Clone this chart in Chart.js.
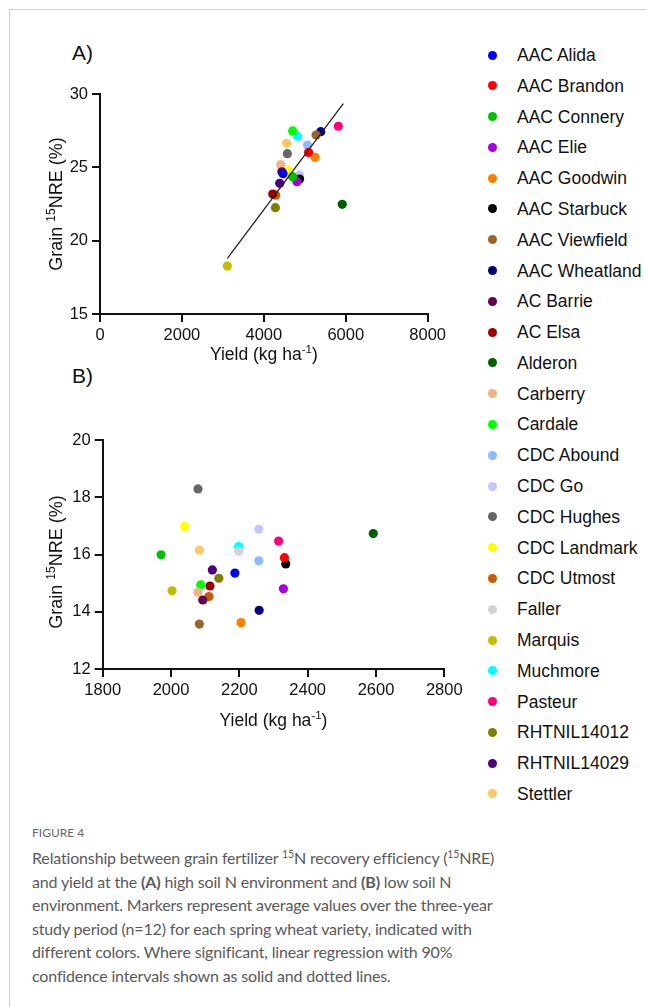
<!DOCTYPE html>
<html><head><meta charset="utf-8">
<script src="https://cdn.jsdelivr.net/npm/chart.js@4/dist/chart.umd.min.js"></script>
<style>
html,body{margin:0;padding:0;background:#fff;}
#page{position:relative;width:646px;height:1007px;overflow:hidden;background:#fff;font-family:"Liberation Sans",Arial,sans-serif;}
#frame{position:absolute;left:9px;top:9px;width:700px;height:1100px;border-left:1px solid #cfcfcf;border-top:1px solid #cfcfcf;}
.panel{position:absolute;font-size:21px;color:#111;line-height:24px;}
canvas{position:absolute;}
.mk{position:absolute;width:9px;height:9px;border-radius:50%;}
.lt{position:absolute;font-size:17.5px;color:#111;white-space:nowrap;line-height:20px;}
#fig{position:absolute;left:32px;top:825px;font-family:"Lato",sans-serif;font-size:12px;color:#666;}
#cap{position:absolute;left:32px;top:846px;font-family:"Lato",sans-serif;font-size:16px;letter-spacing:-0.16px;color:#595959;line-height:23.6px;white-space:nowrap;}
#cap sup{font-size:10.5px;vertical-align:6px;line-height:0;}
#cap b{font-weight:700;}
</style></head>
<body><div id="page">
<div id="frame"></div>
<div class="panel" style="left:72px;top:41px;">A)</div>
<div class="panel" style="left:72px;top:364px;">B)</div>
<canvas id="cA" width="450" height="360" style="left:0;top:20px;width:450px;height:360px;"></canvas>
<canvas id="cB" width="470" height="370" style="left:0;top:390px;width:470px;height:370px;"></canvas>
<div id="legend"></div>
<div id="fig">FIGURE 4</div>
<div id="cap">Relationship between grain fertilizer <sup>15</sup>N recovery efficiency (<sup>15</sup>NRE)<br>and yield at the <b>(A)</b> high soil N environment and <b>(B)</b> low soil N<br>environment. Markers represent average values over the three-year<br>study period (n=12) for each spring wheat variety, indicated with<br>different colors. Where significant, linear regression with 90%<br>confidence intervals shown as solid and dotted lines.</div>
</div>
<script>
const varieties = ["AAC Alida","AAC Brandon","AAC Connery","AAC Elie","AAC Goodwin","AAC Starbuck","AAC Viewfield","AAC Wheatland","AC Barrie","AC Elsa","Alderon","Carberry","Cardale","CDC Abound","CDC Go","CDC Hughes","CDC Landmark","CDC Utmost","Faller","Marquis","Muchmore","Pasteur","RHTNIL14012","RHTNIL14029","Stettler"];
const colors = ["#0000ff","#ff0000","#00c000","#a800e0","#ff7f00","#000000","#9c6428","#00007f","#620052","#990000","#005f00","#f0b482","#00ff00","#8cbcff","#c4c4ff","#666666","#ffff00","#c85a00","#d2d2d2","#c4bc00","#00ffff","#ff0080","#808000","#4c0080","#ffc864"];
// Panel A: high soil N
const yieldA = [4469,5091,4703,4808,5253,4873,5276,5390,4440,4218,5915,4412,4703,5067,4873,4574,4606,4290,4850,3110,4824,5818,4283,4388,4558];
const nreA   = [24.57,26.02,24.36,24.02,25.68,24.2,27.2,27.43,24.7,23.18,22.48,25.18,27.48,26.52,24.48,25.93,24.77,23.1,24.4,18.27,27.12,27.8,22.25,23.91,26.64];
const regXA = [3110,5940];
const regYA = [18.8,29.35];
// Panel B: low soil N
const yieldB = [2187,2332,1971,2329,2205,2336,2083,2258,2093,2114,2592,2079,2087,2257,2257,2079,2040,2111,2198,2003,2198,2315,2140,2121,2083];
const nreB   = [15.35,15.89,15.99,14.8,13.62,15.67,13.57,14.05,14.41,14.9,16.73,14.68,14.94,15.78,16.88,18.29,16.98,14.53,16.11,14.73,16.28,16.47,15.17,15.46,16.15];
const xTicksA = [0,2000,4000,6000,8000];
const yTicksA = [15,20,25,30];
const xTicksB = [1800,2000,2200,2400,2600,2800];
const yTicksB = [12,14,16,18,20];

const FF = "'Liberation Sans', Arial, sans-serif";
const INK = '#111';

// legend
const lg = document.getElementById('legend');
varieties.forEach((v,i)=>{
  const cy = 55 + i*30.79;
  const m = document.createElement('div'); m.className='mk';
  m.style.left='487.5px'; m.style.top=(cy-4.5)+'px'; m.style.background=colors[i];
  lg.appendChild(m);
  const t = document.createElement('div'); t.className='lt';
  t.style.left='517px'; t.style.top=(cy-10)+'px'; t.textContent=v;
  lg.appendChild(t);
});

// axis titles with superscripts
function drawParts(ctx, parts, size, supSize, rise){
  let w=0;
  parts.forEach(p=>{ctx.font=(p.sup?supSize:size)+'px '+FF; w+=ctx.measureText(p.t).width;});
  let x=-w/2;
  parts.forEach(p=>{
    ctx.font=(p.sup?supSize:size)+'px '+FF;
    ctx.fillText(p.t,x,p.sup?-rise:0);
    x+=ctx.measureText(p.t).width;
  });
}
const titlePlugin = {
  id:'supTitles',
  afterDraw(chart, args, opts){
    const ctx=chart.ctx, a=chart.chartArea;
    ctx.save(); ctx.fillStyle=INK; ctx.textBaseline='alphabetic'; ctx.textAlign='left';
    ctx.save(); ctx.translate((a.left+a.right)/2, opts.xBase);
    drawParts(ctx,[{t:'Yield (kg ha'},{t:'-1',sup:true},{t:')'}],17.5,11.5,7);
    ctx.restore();
    ctx.save(); ctx.translate(opts.yBase, opts.yCenter); ctx.rotate(-Math.PI/2);
    drawParts(ctx,[{t:'Grain '},{t:'15',sup:true},{t:'NRE (%)'}],18,12,7.5);
    ctx.restore();
    ctx.restore();
  }
};

function axis(min,max,ticksArr,isX,size){
  return {
    type:'linear', min:min, max:max,
    afterBuildTicks:s=>{s.ticks=ticksArr.map(v=>({value:v}));},
    afterFit:s=>{ if(isX) s.height=size; else s.width=size; },
    ticks:{color:INK,font:{family:FF,size:16.5},padding:4,maxRotation:0,autoSkip:false,callback:v=>String(v)},
    grid:{display:true,drawOnChartArea:false,drawTicks:true,tickLength:8,color:INK,lineWidth:2},
    border:{display:true,color:INK,width:2},
    title:{display:false}
  };
}

function makeDatasets(xs,ys){
  return varieties.map((v,i)=>({
    type:'scatter', label:v, data:[{x:xs[i],y:ys[i]}],
    backgroundColor:colors[i], borderColor:colors[i], borderWidth:0,
    pointRadius:4.6, pointHoverRadius:4.6, order:0
  }));
}

const dsA = makeDatasets(yieldA,nreA);
dsA.push({type:'line',label:'regression',data:regXA.map((x,i)=>({x:x,y:regYA[i]})),
  borderColor:'#222',borderWidth:1.3,pointRadius:0,fill:false,order:-1});

new Chart(document.getElementById('cA'),{
  data:{datasets:dsA},
  options:{
    responsive:false,animation:false,events:[],
    layout:{padding:{top:74,right:20,bottom:0,left:0}},
    plugins:{legend:{display:false},tooltip:{enabled:false},supTitles:{xBase:340,yBase:62,yCenter:184}},
    scales:{x:axis(0,8000,xTicksA,true,66),y:axis(15,30,yTicksA,false,100)}
  },
  plugins:[titlePlugin]
});

new Chart(document.getElementById('cB'),{
  data:{datasets:makeDatasets(yieldB,nreB)},
  options:{
    responsive:false,animation:false,events:[],
    layout:{padding:{top:50,right:25.7,bottom:0,left:0}},
    plugins:{legend:{display:false},tooltip:{enabled:false},supTitles:{xBase:336,yBase:62,yCenter:172}},
    scales:{x:axis(1800,2800,xTicksB,true,91),y:axis(12,20,yTicksB,false,102.7)}
  },
  plugins:[titlePlugin]
});
</script>
</body></html>
